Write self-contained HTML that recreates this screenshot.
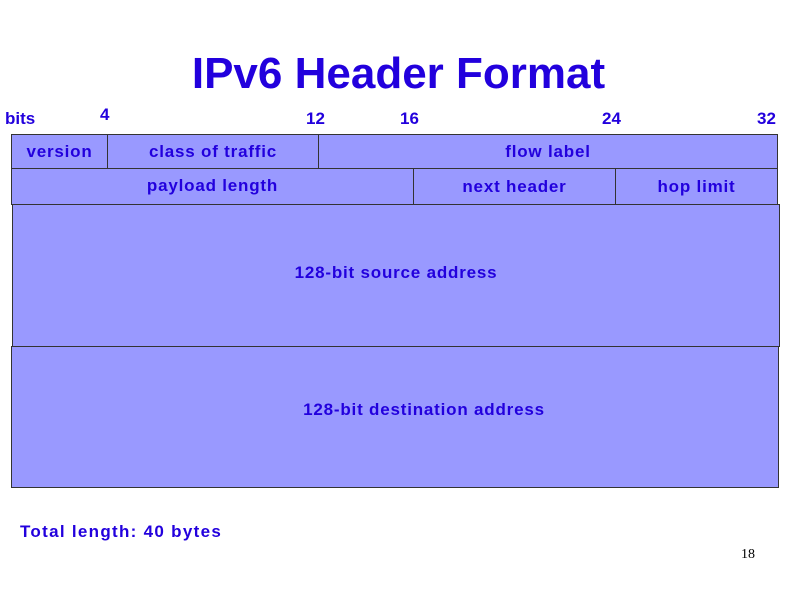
<!DOCTYPE html>
<html><head><style>
body{margin:0;width:800px;height:600px;background:#fff;position:relative;overflow:hidden;font-family:"Liberation Sans",sans-serif;color:#2200dd;font-weight:bold}
.t{position:absolute;white-space:nowrap}
.b{position:absolute;background:#9999ff;border:1px solid #333;box-sizing:border-box;display:flex;align-items:center;justify-content:center;font-size:17px;color:#2200dd;letter-spacing:0.8px}
</style></head><body>
<div class="t" style="left:0;width:797px;text-align:center;top:48px;font-size:44px;line-height:52px">IPv6 Header Format</div>
<div class="t" style="left:5px;top:109px;font-size:17px">bits</div>
<div class="t" style="left:100px;top:105px;font-size:17px">4</div>
<div class="t" style="left:306px;top:109px;font-size:17px">12</div>
<div class="t" style="left:400px;top:109px;font-size:17px">16</div>
<div class="t" style="left:602px;top:109px;font-size:17px">24</div>
<div class="t" style="left:757px;top:109px;font-size:17px">32</div>

<div class="b" style="left:11px;top:134px;width:97px;height:35px">version</div>
<div class="b" style="left:107px;top:134px;width:212px;height:35px">class of traffic</div>
<div class="b" style="left:318px;top:134px;width:460px;height:35px">flow label</div>

<div class="b" style="left:11px;top:168px;width:403px;height:37px;align-items:flex-start;padding-top:7px">payload length</div>
<div class="b" style="left:413px;top:168px;width:203px;height:37px">next header</div>
<div class="b" style="left:615px;top:168px;width:163px;height:37px">hop limit</div>

<div class="b" style="left:12px;top:204px;width:768px;height:143px;padding-bottom:6px">128-bit source address</div>
<div class="b" style="left:11px;top:346px;width:768px;height:142px;padding-left:58px;padding-bottom:14px">128-bit destination address</div>

<div class="t" style="left:20px;top:522px;font-size:17px;letter-spacing:1.3px">Total length: 40 bytes</div>
<div class="t" style="left:741px;top:547px;font-size:14px;font-weight:normal;color:#000;font-family:'Liberation Serif',serif">18</div>
</body></html>
